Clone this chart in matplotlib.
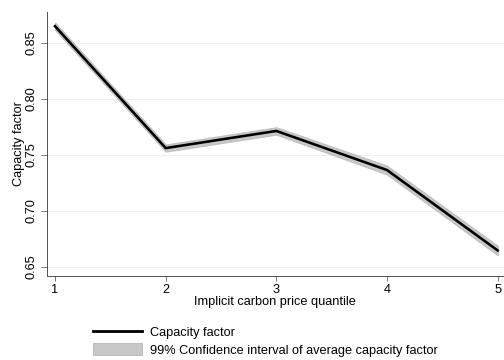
import matplotlib
matplotlib.use("Agg")
import matplotlib.pyplot as plt
from matplotlib.lines import Line2D
from matplotlib.patches import Patch

quantiles = [1, 2, 3, 4, 5]
capacity = [0.8650, 0.7562, 0.7715, 0.7366, 0.6648]
ci_low = [0.8617, 0.7530, 0.7682, 0.7326, 0.6605]
ci_high = [0.8683, 0.7594, 0.7748, 0.7406, 0.6691]
yticks = [0.65, 0.70, 0.75, 0.80, 0.85]
ytick_labels = ["0.65", "0.70", "0.75", "0.80", "0.85"]

plt.rcParams['font.family'] = ['Liberation Sans', 'DejaVu Sans']
FS = 12.8

fig = plt.figure(figsize=(7, 5), dpi=72)
ax = fig.add_axes([0.0927, 0.2333, 0.9073, 0.7334])

ax.fill_between(quantiles, ci_low, ci_high, color='#c8c8c8', edgecolor='#bdbdbd', linewidth=1.0, zorder=2)
ax.plot(quantiles, capacity, color='black', linewidth=2.6, solid_joinstyle='miter', zorder=3)

ax.set_xlim(0.925, 5.057)
ax.set_ylim(0.642, 0.8777)
ax.set_xticks(quantiles)
ax.set_xticklabels([str(q) for q in quantiles], fontsize=FS)
ax.set_yticks(yticks)
ax.set_yticklabels(ytick_labels, fontsize=FS, rotation=90, va='center')
ax.grid(axis='y', color='#eaf2f3', linewidth=1.0, zorder=0)
ax.set_axisbelow(True)

for s in ['top', 'right']:
    ax.spines[s].set_visible(False)
for s in ['left', 'bottom']:
    ax.spines[s].set_color('#555555')
    ax.spines[s].set_linewidth(1.0)
ax.tick_params(axis='y', direction='out', length=6, width=0.8, color='#555555', pad=3)
ax.tick_params(axis='x', direction='out', length=5, width=0.8, color='#555555', pad=3)

ax.set_xlabel("Implicit carbon price quantile", fontsize=FS, labelpad=0)
ax.set_ylabel("Capacity factor", fontsize=FS, labelpad=1)

handles = [Line2D([0], [0], color='black', linewidth=2.8),
           Patch(facecolor='#c8c8c8', edgecolor='#bdbdbd', linewidth=1.0)]
labels = ["Capacity factor", "99% Confidence interval of average capacity factor"]
fig.legend(handles, labels, loc='upper left', bbox_to_anchor=(0.1845, 0.096),
           frameon=False, fontsize=FS, handlelength=3.83, handleheight=1.02,
           handletextpad=0.62, labelspacing=0.38, borderaxespad=0, borderpad=0)

fig.savefig("out.png", dpi=72)
